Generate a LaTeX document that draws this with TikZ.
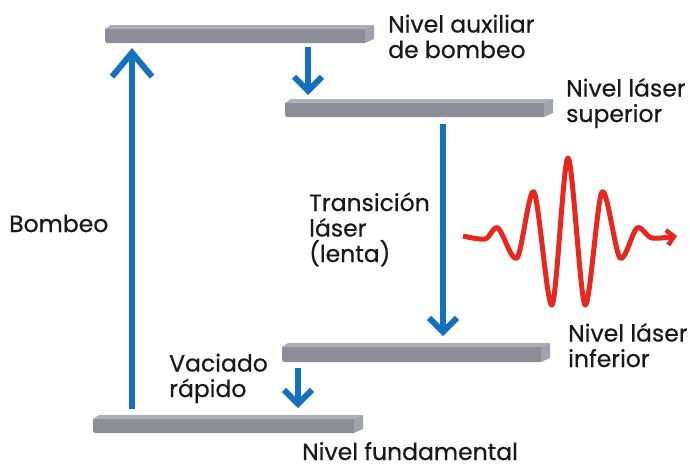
\documentclass[tikz,border=0pt]{standalone}
\usepackage{fontspec}
\setmainfont{Poppins}[FakeBold=0.5]
\usetikzlibrary{arrows.meta}
\definecolor{arrowblue}{RGB}{22,112,192}
\definecolor{wavered}{RGB}{232,40,30}
\definecolor{barfront}{RGB}{139,142,148}
\definecolor{bartop}{RGB}{172,175,180}
\definecolor{barend}{RGB}{160,163,169}
\definecolor{textdark}{RGB}{25,25,25}
\newcommand\levelbar[4]{%
  \fill[barfront] (#1,#2+4) -- (#3-9,#2+4) -- (#3-9,#4) -- (#1+2,#4) -- (#1,#4-2) -- cycle;
  \fill[bartop] (#1,#2+4) -- (#1+6,#2) -- (#3,#2) -- (#3-9,#2+4) -- cycle;
  \fill[barend] (#3-9,#2+4) -- (#3,#2) -- (#3,#4-4) -- (#3-9,#4) -- cycle;
}
\begin{document}
\begin{tikzpicture}[x=1pt,y=-1pt,
  lbl/.style={anchor=base west, inner sep=0pt, align=left,
    font=\fontsize{23.5}{25.5}\selectfont, text=textdark},
  bigarrow/.style={draw=arrowblue, line width=6pt,
    -{Straight Barb[length=24pt,width=40pt,line width=6pt]}},
  smallarrow/.style={draw=arrowblue, line width=6pt,
    -{Straight Barb[length=14pt,width=28pt,line width=6pt]}},
  wave/.style={draw=wavered, line width=5pt, line join=round,
    -{Straight Barb[length=7pt,width=15pt,line width=4.5pt]}}
]
\useasboundingbox (0,0) rectangle (690,472);
\fill[white] (0,0) rectangle (690,472);

% energy levels
\levelbar{105}{25}{374}{43}
\levelbar{285}{99}{553}{117}
\levelbar{282}{343}{550}{362}
\levelbar{93}{415}{363}{433}

% arrow end points
\coordinate (pumpA) at (132,409);
\coordinate (pumpB) at (132,48);
\coordinate (relaxA) at (308,47);
\coordinate (relaxB) at (308,95);
\coordinate (laserA) at (443,124);
\coordinate (laserB) at (443,336);
\coordinate (emptyA) at (298,368);
\coordinate (emptyB) at (298,408);

\draw[bigarrow] (pumpA) -- (pumpB);
\draw[smallarrow] (relaxA) -- (relaxB);
\draw[smallarrow] (laserA) -- (laserB);
\draw[smallarrow] (emptyA) -- (emptyB);

% emitted light pulse
\draw[wave] plot[smooth, tension=0.5] coordinates {
  (463,236) (485,239) (498,228) (517,258) (534,192) (552,305)
  (568,158) (585,305) (602,192) (620,258) (637,228) (652,238) (677,236)};

% labels (base anchor = baseline of last line)
\node[lbl] (aux) at (388,58) {Nivel auxiliar\\de bombeo};
\node[lbl] (sup) at (566,122) {Nivel láser\\superior};
\node[lbl] (trans) at (309,262) {Transición\\láser\\(lenta)};
\node[lbl] (bomb) at (9,232) {Bombeo};
\node[lbl] (inf) at (568,367) {Nivel láser\\inferior};
\node[lbl] (vac) at (169,397) {Vaciado\\rápido};
\node[lbl] (fund) at (302,460) {Nivel fundamental};
\end{tikzpicture}
\end{document}
